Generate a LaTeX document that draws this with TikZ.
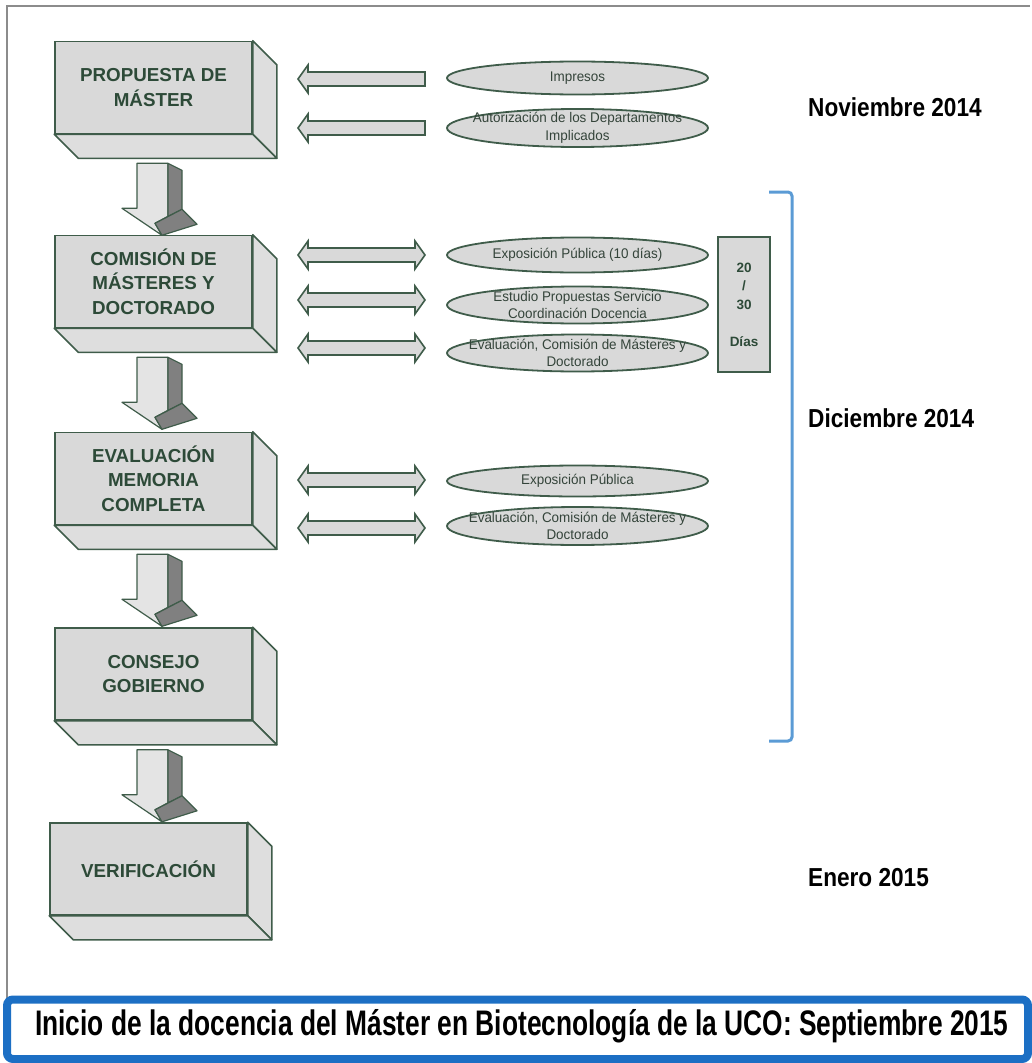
\documentclass[tikz,border=0pt]{standalone}
\usepackage{fontspec}
\setmainfont{Liberation Sans}
\newfontfamily\narrowfont[FakeStretch=0.87]{Liberation Sans}
\newfontfamily\bannerfont[FakeStretch=0.742]{Liberation Sans}
\newfontfamily\ellfont[FakeStretch=0.96]{Liberation Sans}
\usetikzlibrary{shapes.geometric,calc}
\definecolor{boxfill}{HTML}{D9D9D9}
\definecolor{sidefill}{HTML}{DEDEDE}
\definecolor{edgegreen}{HTML}{3F5C4A}
\definecolor{txtgreen}{HTML}{2D4A38}
\definecolor{darkface}{HTML}{808080}
\definecolor{lightface}{HTML}{E4E4E4}
\definecolor{bracketblue}{HTML}{5B9BD5}
\definecolor{bannerblue}{HTML}{1C6FC4}
\definecolor{framegray}{HTML}{8C8C8C}
\definecolor{elltext}{HTML}{34443A}
\tikzset{
  stepbox/.style={draw=edgegreen, line width=1.6pt, fill=boxfill, minimum width=197pt,
    minimum height=92pt, inner sep=0pt, font=\fontsize{18.8}{24.5}\selectfont\bfseries,
    text=txtgreen, align=center},
  sideface/.style={draw=edgegreen, line width=1.6pt, fill=sidefill, line join=round},
  arrlight/.style={draw=edgegreen, line width=1.2pt, fill=lightface, line join=round},
  arrdark/.style={draw=edgegreen, line width=1.2pt, fill=darkface, line join=round},
  blockarr/.style={draw=edgegreen, line width=1.6pt, fill=boxfill, line join=miter},
  ell/.style={ellipse, draw=edgegreen, line width=1.8pt, fill=boxfill, minimum width=261pt,
    inner sep=0pt},
  elltxt/.style={font=\ellfont\fontsize{14}{17.5}\selectfont, text=elltext, align=center, inner sep=0pt},
  daysbox/.style={draw=edgegreen, line width=1.6pt, fill=boxfill, minimum width=52pt,
    minimum height=135pt, inner sep=0pt, align=center,
    font=\fontsize{13.5}{18.5}\selectfont\bfseries, text=txtgreen},
  datelabel/.style={anchor=west, inner sep=0pt, font=\narrowfont\bfseries\fontsize{26}{30}\selectfont},
}
\newcommand\boxsides[1]{%
  \draw[sideface] (#1.north east) -- ++(24,24) -- ($(#1.south east)+(24,24)$) -- (#1.south east) -- cycle;
  \draw[sideface] (#1.south west) -- ++(24,24) -- ($(#1.south east)+(24,24)$) -- (#1.south east) -- cycle;}
\newcommand\flowarrow[1]{%
  \begin{scope}[shift={(#1.south)}]
    \draw[arrlight] (-16.5,29) -- (14.5,29) -- (14.5,82) -- (1.5,89) -- (8.5,101) -- (-31.5,74) -- (-16.5,74) -- cycle;
    \draw[arrdark] (14.5,29) -- (28.5,36) -- (28.5,75) -- (14.5,82) -- cycle;
    \draw[arrdark] (1.5,89) -- (28.5,75) -- (43.5,90) -- (8.5,101) -- cycle;
  \end{scope}}
\newcommand\leftblock[1]{%
  \draw[blockarr] (298,#1) -- ++(10,-14) -- ++(0,7) -- ++(117,0) -- ++(0,14) -- ++(-117,0) -- ++(0,7) -- cycle;}
\newcommand\doubleblock[1]{%
  \draw[blockarr] (298,#1) -- ++(10,-14) -- ++(0,7) -- ++(107,0) -- ++(0,-7) -- ++(10,14) -- ++(-10,14) -- ++(0,-7) -- ++(-107,0) -- ++(0,7) -- cycle;}
\begin{document}
\begin{tikzpicture}[x=1pt,y=-1pt]
\useasboundingbox (0,0) rectangle (1031,1063);
% frame
\draw[framegray, line width=2pt] (7,999) -- (7,6) -- (1030,6);
% main boxes
\node[stepbox] (b1) at (153.5,87.5) {PROPUESTA DE\\MÁSTER};
\node[stepbox] (b2) at (153.5,281.5) {COMISIÓN DE\\MÁSTERES Y\\DOCTORADO};
\node[stepbox] (b3) at (153.5,478.5) {EVALUACIÓN\\MEMORIA\\COMPLETA};
\node[stepbox] (b4) at (153.5,674) {CONSEJO\\GOBIERNO};
\node[stepbox] (b5) at (148.5,869) {VERIFICACIÓN};
\boxsides{b1}\boxsides{b2}\boxsides{b3}\boxsides{b4}\boxsides{b5}
\flowarrow{b1}\flowarrow{b2}\flowarrow{b3}\flowarrow{b4}
% ellipses
\node[ell, minimum height=33pt] (e1) at (577.5,78) {};
\node[elltxt] at (e1.center) {Impresos};
\node[ell, minimum height=38pt] (e2) at (577.5,128) {};
\node[elltxt] at (e2.center) {Autorización de los Departamentos\\Implicados};
\node[ell, minimum height=35pt] (e3) at (577.5,255) {};
\node[elltxt] at (e3.center) {Exposición Pública (10 días)};
\node[ell, minimum height=37pt] (e4) at (577.5,305) {};
\node[elltxt] at (e4.center) {Estudio Propuestas Servicio\\Coordinación Docencia};
\node[ell, minimum height=37pt] (e5) at (577.5,353) {};
\node[elltxt] at (e5.center) {Evaluación, Comisión de Másteres y\\Doctorado};
\node[ell, minimum height=31pt] (e6) at (577.5,481) {};
\node[elltxt] at (e6.center) {Exposición Pública};
\node[ell, minimum height=38pt] (e7) at (577.5,526) {};
\node[elltxt] at (e7.center) {Evaluación, Comisión de Másteres y\\Doctorado};
% horizontal arrows
\leftblock{79}\leftblock{128}
\doubleblock{255}\doubleblock{300}\doubleblock{348}
\doubleblock{480}\doubleblock{528}
% days box
\node[daysbox] (days) at (744,304.5) {20\\/\\30\\[18.5pt]Días};
% bracket
\draw[bracketblue, line width=3pt, rounded corners=4pt] (769,192) -- (792,192) -- (792,741) -- (769,741);
% dates
\node[datelabel] (nov) at (808,107) {Noviembre 2014};
\node[datelabel] (dic) at (808,418) {Diciembre 2014};
\node[datelabel] (ene) at (808,877.5) {Enero 2015};
% banner
\draw[bannerblue, line width=8pt, fill=white, rounded corners=6pt] (7,999.5) rectangle (1028,1059);
\node[anchor=base west, inner sep=0pt, font=\bannerfont\bfseries\fontsize{35.5}{40}\selectfont] (banner) at (35,1035)
  {Inicio de la docencia del Máster en Biotecnología de la UCO: Septiembre 2015};
\end{tikzpicture}
\end{document}
